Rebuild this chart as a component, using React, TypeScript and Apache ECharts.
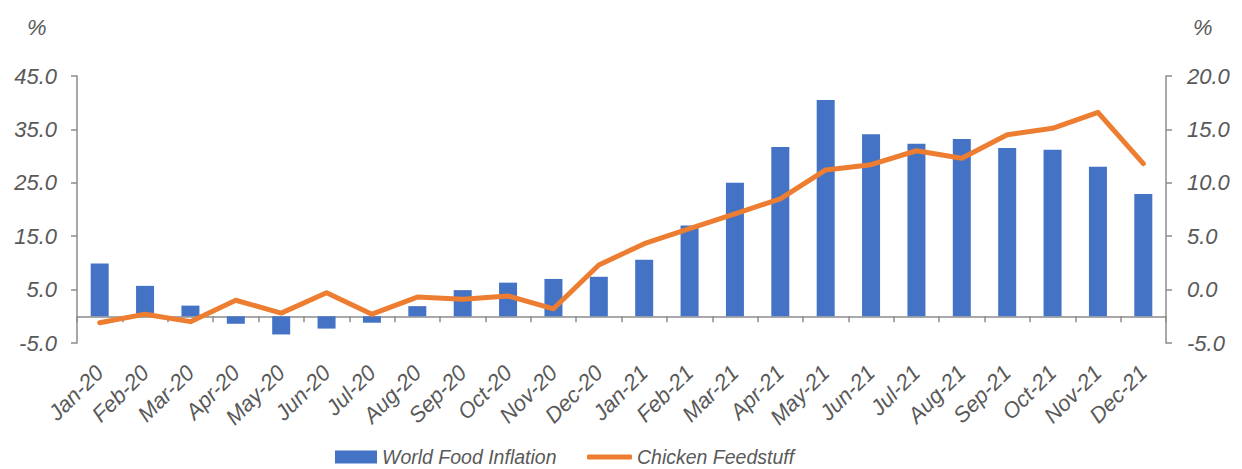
import React, { useEffect, useRef } from "react";
import * as echarts from "echarts";

const categories = [
  "Jan-20", "Feb-20", "Mar-20", "Apr-20", "May-20", "Jun-20", "Jul-20", "Aug-20",
  "Sep-20", "Oct-20", "Nov-20", "Dec-20", "Jan-21", "Feb-21", "Mar-21", "Apr-21",
  "May-21", "Jun-21", "Jul-21", "Aug-21", "Sep-21", "Oct-21", "Nov-21", "Dec-21",
];
const worldFoodInflation = [
  9.9, 5.7, 2.0, -1.4, -3.4, -2.3, -1.2, 1.9, 4.9, 6.3, 7.0, 7.4,
  10.6, 17.0, 25.0, 31.7, 40.5, 34.1, 32.3, 33.2, 31.5, 31.2, 28.0, 22.9,
];
const chickenFeedstuff = [
  -3.1, -2.3, -3.0, -1.0, -2.2, -0.3, -2.3, -0.7, -0.9, -0.6, -1.8, 2.3,
  4.3, 5.7, 7.1, 8.5, 11.2, 11.7, 13.0, 12.3, 14.5, 15.1, 16.6, 11.8,
];
const leftAxis = { min: -5, max: 45, interval: 10 };
const rightAxis = { min: -5, max: 20, interval: 5 };

const FONT = "'Liberation Sans', Arial, sans-serif";
const TEXT = "#595959";
const AXIS = "#8c8c8c";

export default function App() {
  const ref = useRef<HTMLDivElement>(null);
  useEffect(() => {
    document.body.style.margin = "0";
    if (!ref.current) return;
    const chart = echarts.init(ref.current, null, { renderer: "svg" });
    const labelStyle = {
      color: TEXT,
      fontStyle: "italic" as const,
      fontFamily: FONT,
      fontSize: 22,
    };
    const legendText = { color: TEXT, fontStyle: "italic", fontFamily: FONT, fontSize: 19.5 };
    chart.setOption({
      animation: false,
      grid: { left: 77, right: 76, top: 76, bottom: 126, containLabel: false },
      legend: [
        {
          left: 335,
          top: 447,
          padding: 0,
          itemWidth: 42,
          itemHeight: 13,
          textStyle: legendText,
          data: [{ name: "World Food Inflation", icon: "rect" }],
        },
        {
          left: 587,
          top: 447,
          padding: 0,
          itemWidth: 45,
          itemHeight: 5,
          textStyle: legendText,
          data: [{ name: "Chicken Feedstuff", icon: "roundRect" }],
        },
      ],
      graphic: [
        { type: "text", left: 27, top: 16, style: { text: "%", fill: TEXT, font: `italic 22px ${FONT}` } },
        { type: "text", left: 1193, top: 16, style: { text: "%", fill: TEXT, font: `italic 22px ${FONT}` } },
      ],
      xAxis: {
        type: "category",
        data: categories,
        boundaryGap: true,
        axisLine: { onZero: true, lineStyle: { color: AXIS, width: 1.5 } },
        axisTick: { show: true, interval: 0, length: 6, lineStyle: { color: AXIS, width: 1.5 } },
        axisLabel: { ...labelStyle, interval: 0, rotate: 45, margin: 26 },
        splitLine: { show: false },
      },
      yAxis: [
        {
          type: "value",
          ...leftAxis,
          position: "left",
          axisLine: { show: true, lineStyle: { color: AXIS, width: 1.5 } },
          axisTick: { show: true, length: 6, lineStyle: { color: AXIS, width: 1.5 } },
          axisLabel: { ...labelStyle, margin: 20, formatter: (v: number) => v.toFixed(1) },
          splitLine: { show: false },
        },
        {
          type: "value",
          ...rightAxis,
          position: "right",
          axisLine: { show: true, lineStyle: { color: AXIS, width: 1.5 } },
          axisTick: { show: true, length: 6, lineStyle: { color: AXIS, width: 1.5 } },
          axisLabel: { ...labelStyle, margin: 21, formatter: (v: number) => v.toFixed(1) },
          splitLine: { show: false },
        },
      ],
      series: [
        {
          name: "World Food Inflation",
          type: "bar",
          yAxisIndex: 0,
          data: worldFoodInflation,
          barWidth: 18,
          itemStyle: { color: "#4472C4" },
        },
        {
          name: "Chicken Feedstuff",
          type: "line",
          yAxisIndex: 1,
          data: chickenFeedstuff,
          symbol: "none",
          lineStyle: { color: "#ED7D31", width: 5, cap: "round", join: "round" },
          itemStyle: { color: "#ED7D31" },
        },
      ],
    });
    return () => chart.dispose();
  }, []);
  return <div ref={ref} style={{ width: 1242, height: 469 }} />;
}
